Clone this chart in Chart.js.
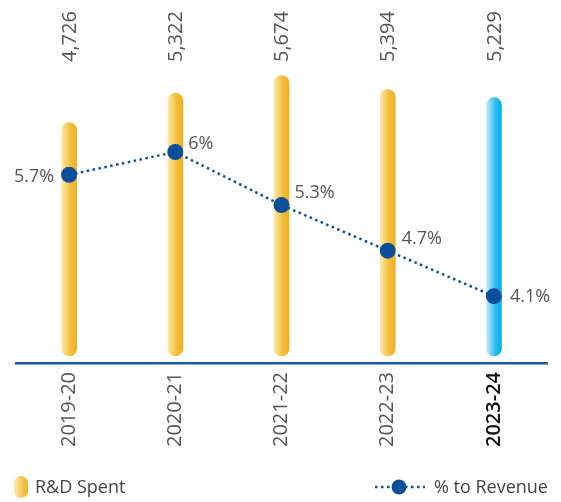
<!DOCTYPE html>
<html>
<head>
<meta charset="utf-8">
<script src="https://cdn.jsdelivr.net/npm/chart.js@4"></script>
<style>
  html, body { margin: 0; padding: 0; background: #fff; }
  #wrap { width: 561px; height: 502px; }
</style>
</head>
<body>
<div id="wrap"><canvas id="myChart"></canvas></div>
<script>
const years = ['2019-20', '2020-21', '2021-22', '2022-23', '2023-24'];
const rdSpent = [4726, 5322, 5674, 5394, 5229];
const rdLabels = ['4,726', '5,322', '5,674', '5,394', '5,229'];
const pctRevenue = [5.7, 6, 5.3, 4.7, 4.1];
const pctLabels = ['5.7%', '6%', '5.3%', '4.7%', '4.1%'];

const FONT = '"Open Sans", "Noto Sans", sans-serif';
const GREY = '#555555';
const BLUE = '#0b4f9c';

function barGradient(ctx) {
    const chart = ctx.chart;
    if (!chart.chartArea) return '#f0b323';
    const x = chart.scales.x.getPixelForValue(ctx.dataIndex);
    const g = chart.ctx.createLinearGradient(x - 7.5, 0, x + 7.5, 0);
    if (ctx.dataIndex === years.length - 1) {
        g.addColorStop(0, '#c9ecfb');
        g.addColorStop(0.6, '#2bbcf0');
        g.addColorStop(1, '#00aeef');
    } else {
        g.addColorStop(0, '#fde8a8');
        g.addColorStop(0.6, '#f3bd3a');
        g.addColorStop(1, '#efb01e');
    }
    return g;
}

// value labels on top, % labels and legend
const labelsPlugin = {
    id: 'labels',
    afterDatasetsDraw(chart) {
        const c = chart.ctx;
        const bars = chart.getDatasetMeta(0).data;
        const pts = chart.getDatasetMeta(1).data;

        c.save();
        c.fillStyle = GREY;
        c.font = '20px ' + FONT;
        c.textAlign = 'left';
        c.textBaseline = 'middle';
        bars.forEach((b, i) => {
            c.save();
            c.translate(b.x + 1, 62);
            c.rotate(-Math.PI / 2);
            c.fillText(rdLabels[i], 0, 0);
            c.restore();
        });

        c.font = '18px ' + FONT;
        const offs = [[-15, 2, 'right'], [13, -8, 'left'], [13, -12, 'left'], [14, -12, 'left'], [16, 1, 'left']];
        pts.forEach((p, i) => {
            c.textAlign = offs[i][2];
            c.fillText(pctLabels[i], p.x + offs[i][0], p.y + offs[i][1]);
        });

        // legend
        const g = c.createLinearGradient(14, 0, 28, 0);
        g.addColorStop(0, '#fde8a8');
        g.addColorStop(1, '#efb01e');
        c.fillStyle = g;
        c.beginPath();
        c.roundRect(14, 476, 14, 22, 7);
        c.fill();
        c.fillStyle = '#444';
        c.font = '18px ' + FONT;
        c.textAlign = 'left';
        c.fillText(chart.data.datasets[0].label, 35, 488);

        c.strokeStyle = BLUE;
        c.lineWidth = 2.5;
        c.setLineDash([2.5, 3.5]);
        c.beginPath();
        c.moveTo(375, 487);
        c.lineTo(425, 487);
        c.stroke();
        c.setLineDash([]);
        c.fillStyle = BLUE;
        c.beginPath();
        c.arc(399, 487, 7.5, 0, Math.PI * 2);
        c.fill();
        c.fillStyle = '#444';
        c.fillText(chart.data.datasets[1].label, 434, 488);
        c.restore();
    }
};

const chart = new Chart(document.getElementById('myChart'), {
    data: {
        labels: years,
        datasets: [{
            type: 'bar',
            label: 'R&D Spent',
            data: rdSpent,
            yAxisID: 'y',
            backgroundColor: barGradient,
            barThickness: 15,
            borderRadius: 7.5,
            borderSkipped: false,
            order: 1
        }, {
            type: 'line',
            label: '% to Revenue',
            data: pctRevenue,
            yAxisID: 'y2',
            borderColor: BLUE,
            borderWidth: 2.5,
            borderDash: [2.5, 3.5],
            backgroundColor: BLUE,
            pointRadius: 8,
            pointHoverRadius: 8,
            pointBorderWidth: 0,
            tension: 0,
            order: 0
        }]
    },
    plugins: [labelsPlugin],
    options: {
        responsive: true,
        maintainAspectRatio: false,
        animation: false,
        layout: { padding: { top: 70, left: 16, right: 14, bottom: 0 } },
        plugins: {
            legend: { display: false },
            tooltip: { enabled: false }
        },
        scales: {
            x: {
                grid: { display: false, drawTicks: false },
                border: { display: true, color: '#1b5aa6', width: 2.5 },
                afterFit(scale) { scale.height = 139; },
                ticks: {
                    minRotation: 90,
                    maxRotation: 90,
                    padding: 9,
                    color: ctx => ctx.index === years.length - 1 ? '#111' : GREY,
                    font: ctx => ({
                        family: FONT,
                        size: 20,
                        weight: ctx.index === years.length - 1 ? '600' : 'normal'
                    })
                }
            },
            y: { display: false, min: -142, max: 5789 },
            y2: { display: false, min: 3.22, max: 7.08 }
        }
    }
});
</script>
</body>
</html>
